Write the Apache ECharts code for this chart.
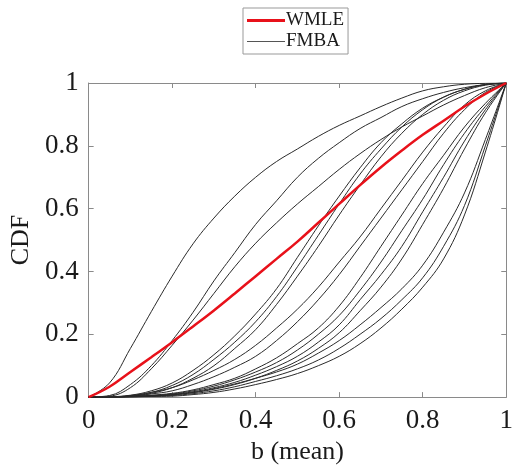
<!DOCTYPE html>
<html>
<head>
<meta charset="utf-8">
<script src="https://cdn.jsdelivr.net/npm/echarts@6/dist/echarts.min.js"></script>
<style>html,body{margin:0;padding:0;background:#fff}#c{width:516px;height:470px}</style>
</head>
<body>
<div id="c"></div>
<script>
// x positions (b, mean) shared by all curves
var xs = [0,0.05,0.1,0.15,0.2,0.25,0.3,0.35,0.4,0.45,0.5,0.55,0.6,0.65,0.7,0.75,0.8,0.85,0.9,0.95,1];
var xTicks = [0,0.2,0.4,0.6,0.8,1];
var yTicks = [0,0.2,0.4,0.6,0.8,1];

// WMLE CDF
var wmle = [0,0.033,0.08,0.127,0.175,0.225,0.276,0.33,0.385,0.44,0.495,0.555,0.615,0.675,0.732,0.785,0.835,0.88,0.925,0.965,1];

// FMBA CDFs
var fmbaA = [0,0.045,0.155,0.272,0.385,0.488,0.57,0.64,0.70,0.75,0.79,0.83,0.865,0.895,0.925,0.952,0.975,0.988,0.996,0.999,1];
var fmbaB = [0,0.005,0.04,0.10,0.18,0.27,0.37,0.46,0.55,0.625,0.70,0.76,0.81,0.855,0.89,0.925,0.95,0.97,0.985,0.995,1];
var fmbaC = [0,0.003,0.03,0.09,0.165,0.245,0.33,0.415,0.49,0.555,0.615,0.67,0.725,0.775,0.82,0.86,0.895,0.93,0.96,0.985,1];
var fmbaD = [0,0.001,0.006,0.02,0.045,0.085,0.135,0.195,0.265,0.345,0.445,0.545,0.64,0.73,0.81,0.87,0.92,0.955,0.98,0.995,1];
var fmbaE = [0,0.001,0.004,0.015,0.037,0.072,0.12,0.175,0.24,0.32,0.415,0.515,0.615,0.71,0.79,0.86,0.915,0.955,0.98,0.995,1];
var fmbaF = [0,0,0.003,0.012,0.03,0.06,0.10,0.155,0.215,0.295,0.385,0.48,0.58,0.675,0.765,0.84,0.9,0.945,0.975,0.993,1];
var fmbaG = [0,0,0.005,0.015,0.03,0.055,0.085,0.12,0.165,0.22,0.28,0.35,0.43,0.51,0.6,0.69,0.78,0.86,0.93,0.975,1];
var fmbaH = [0,0,0.003,0.01,0.02,0.04,0.065,0.095,0.13,0.18,0.24,0.31,0.39,0.48,0.57,0.66,0.75,0.84,0.915,0.97,1];
var fmbaI = [0,0,0.002,0.006,0.012,0.023,0.04,0.06,0.09,0.125,0.17,0.22,0.29,0.38,0.48,0.58,0.68,0.77,0.86,0.935,1];
var fmbaJ = [0,0,0.002,0.005,0.01,0.02,0.035,0.055,0.08,0.11,0.15,0.2,0.26,0.34,0.43,0.53,0.63,0.74,0.84,0.925,1];
var fmbaK = [0,0,0.001,0.004,0.008,0.017,0.03,0.047,0.07,0.097,0.13,0.175,0.23,0.31,0.39,0.48,0.59,0.7,0.815,0.915,1];
var fmbaL = [0,0,0.001,0.003,0.007,0.014,0.025,0.04,0.06,0.085,0.115,0.155,0.205,0.275,0.35,0.44,0.55,0.665,0.79,0.905,1];
var fmbaM = [0,0,0.002,0.004,0.008,0.015,0.027,0.042,0.06,0.08,0.105,0.14,0.18,0.23,0.285,0.345,0.42,0.525,0.65,0.82,1];
var fmbaN = [0,0,0.001,0.003,0.005,0.011,0.02,0.033,0.05,0.068,0.09,0.118,0.155,0.2,0.25,0.31,0.38,0.48,0.61,0.80,1];
var fmbaO = [0,0,0,0.002,0.003,0.008,0.015,0.026,0.04,0.056,0.075,0.1,0.13,0.17,0.22,0.28,0.35,0.44,0.58,0.78,1];

var fmbaList = [fmbaA,fmbaB,fmbaC,fmbaD,fmbaE,fmbaF,fmbaG,fmbaH,fmbaI,fmbaJ,fmbaK,fmbaL,fmbaM,fmbaN,fmbaO];

function pairs(ys){ return xs.map(function(x,i){ return [x, ys[i]]; }); }

var FONT = "'Liberation Serif', 'Times New Roman', serif";
var axisGray = '#8a8a8a';
var RED = '#e8111a';
var BLK = '#2a2a2a';

var series = [];
fmbaList.forEach(function(ys){
  series.push({
    name: 'FMBA', type: 'line', data: pairs(ys), smooth: 0.4,
    symbol: 'none', z: 2,
    lineStyle: { color: BLK, width: 1 },
    itemStyle: { color: BLK }
  });
});
series.push({
  name: 'WMLE', type: 'line', data: pairs(wmle), smooth: 0.4,
  symbol: 'none', z: 3,
  lineStyle: { color: RED, width: 2.5 },
  itemStyle: { color: RED }
});

function mkAxis(pos, showLabel, name, extra){
  var ax = {
    type: 'value', position: pos, min: 0, max: 1, interval: 0.2,
    axisLine: { show: true, onZero: false, lineStyle: { color: axisGray, width: 1 } },
    axisTick: { show: true, inside: true, length: 5, lineStyle: { color: axisGray } },
    splitLine: { show: false },
    axisLabel: {
      show: showLabel, fontFamily: FONT, fontSize: 27, color: '#1a1a1a', margin: 10,
      formatter: function(v){ return String(Math.round(v*10)/10); }
    }
  };
  if (name) {
    ax.name = name;
    ax.nameLocation = 'middle';
    ax.nameTextStyle = { fontFamily: FONT, fontSize: 26, color: '#1a1a1a' };
  }
  for (var k in extra) ax[k] = extra[k];
  return ax;
}

var chart = echarts.init(document.getElementById('c'), null, { renderer: 'canvas' });
chart.setOption({
  animation: false,
  backgroundColor: '#ffffff',
  grid: { left: 82, right: 5, top: 83, bottom: 71, containLabel: false },
  legend: {
    data: [
      { name: 'WMLE', icon: 'path://M0,0H38V3H0Z', itemStyle: { color: RED } },
      { name: 'FMBA', icon: 'path://M0,0H38V1.2H0Z', itemStyle: { color: '#555' } }
    ],
    symbolKeepAspect: true,
    orient: 'vertical',
    left: 243, top: 8,
    borderColor: '#999', borderWidth: 1,
    padding: [3, 4, 3, 4],
    itemGap: 2, itemWidth: 38, itemHeight: 20,
    textStyle: { fontFamily: FONT, fontSize: 19, color: '#1a1a1a', padding: [0,0,0,-4] }
  },
  xAxis: [
    mkAxis('bottom', true, 'b (mean)', { nameGap: 38 }),
    mkAxis('top', false, null, {})
  ],
  yAxis: [
    mkAxis('left', true, 'CDF', { nameGap: 47 }),
    mkAxis('right', false, null, {})
  ],
  series: series
});
</script>
</body>
</html>
